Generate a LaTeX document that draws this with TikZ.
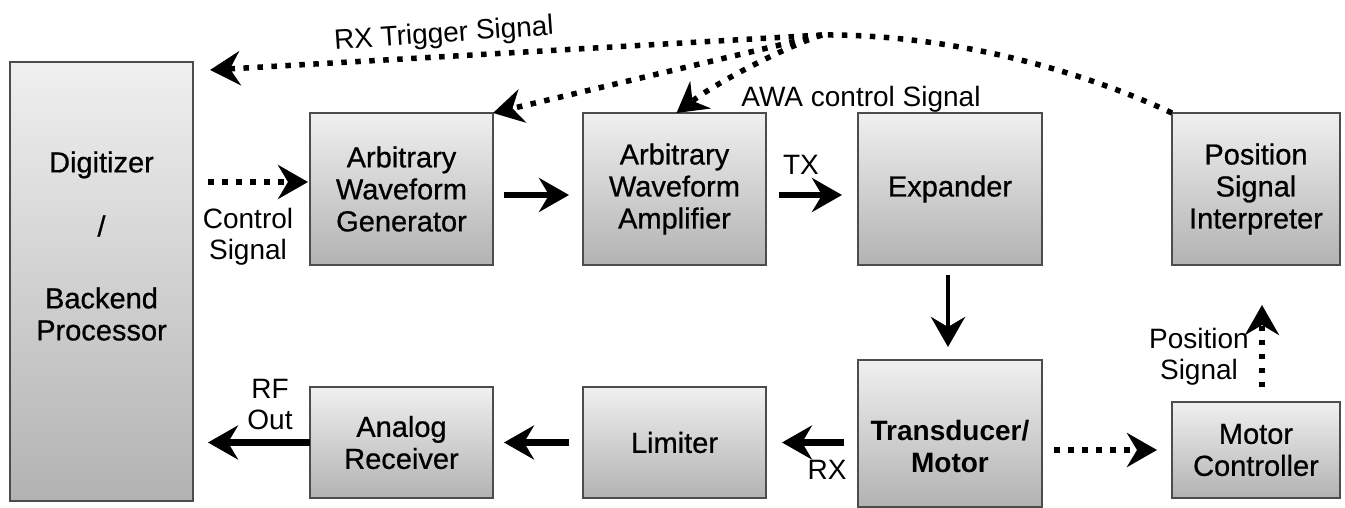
\documentclass[tikz,border=0pt]{standalone}
\usepackage{fontspec}
\setmainfont{Liberation Sans}
\newfontfamily\boxfont[FakeBold=0.7]{Liberation Sans}
\usetikzlibrary{arrows.meta,calc}
\begin{document}
\begin{tikzpicture}[x=1pt,y=-1pt,
  box/.style n args={2}{draw=black!70, line width=1.5pt, top color=black!6, bottom color=black!30,
    minimum width=#1, minimum height=#2, inner sep=0pt, outer sep=0pt,
    font=\boxfont\fontsize{29}{32}\selectfont, align=center},
  boxtext/.style={font=\boxfont\fontsize{29}{32}\selectfont, align=center, inner sep=0pt},
  lbl/.style={font=\fontsize{28}{31}\selectfont, align=center, inner sep=0pt},
  tipstyle/.style={-{Stealth[length=30pt, width=34pt, inset=10pt]}},
  solidarrow/.style={line width=6.5pt, tipstyle},
  dotarrow/.style={line width=5.5pt, dash pattern=on 5.5pt off 8.5pt, tipstyle},
  dotline/.style={line width=5.5pt, dash pattern=on 5.5pt off 8.5pt}
]
\useasboundingbox (0,0) rectangle (1345,508);

% boxes
\node[box={183pt}{439pt}] (dig) at (101.5,281.5) {};
\node[boxtext] (digt) at (101.5,246) {Digitizer\\[32pt]/\\[40pt]Backend\\Processor};
\node[box={183pt}{152pt}] (awg) at (401.5,189) {Arbitrary\\Waveform\\Generator};
\node[box={183pt}{152pt}] (awa) at (674.5,189) {Arbitrary\\Waveform\\Amplifier};
\node[box={184pt}{152pt}] (exp) at (950,189) {Expander};
\node[box={168pt}{152pt}] (psi) at (1256,189) {Position\\Signal\\Interpreter};
\node[box={183pt}{111pt}] (ar) at (401.5,442.5) {Analog\\Receiver};
\node[box={183pt}{111pt}] (lim) at (674.5,442.5) {Limiter};
\node[box={184pt}{147pt}] (tm) at (950,433.5) {};
\node[boxtext, font=\bfseries\fontsize{28}{32}\selectfont] (tmt) at (950,446) {Transducer/\\Motor};
\node[box={168pt}{96pt}] (mc) at (1256,450) {Motor\\Controller};

% top dotted connectors
\coordinate (hub) at (822,35);
\draw[dotline] (psi.north west) .. controls (1080,70) and (950,34) .. (hub);
\draw[dotarrow] (hub) -- ([xshift=17pt,yshift=-8pt]dig.north east);
\draw[dotarrow] (hub) -- (awg.north east);
\draw[dotarrow] (hub) .. controls (790,45) and (720,80) .. ([xshift=2pt]awa.north);

% horizontal / vertical arrows
\draw[dotarrow, shorten <=15pt, shorten >=2pt] ([yshift=7pt]dig.east |- awg.west) -- ([yshift=7pt]awg.west);
\draw[solidarrow, shorten <=11pt, shorten >=14pt] ([yshift=-6pt]awg.east) -- ([yshift=-6pt]awa.west);
\draw[solidarrow, shorten <=13pt, shorten >=16pt] ([yshift=-6pt]awa.east) -- ([yshift=-6pt]exp.west);
\draw[solidarrow, line width=4.5pt, shorten <=10pt, shorten >=13pt] ([xshift=-2pt]exp.south) -- ([xshift=-2pt]tm.north);
\draw[solidarrow, shorten <=14pt, shorten >=16pt] (tm.west |- lim.east) -- (lim.east);
\draw[solidarrow, shorten <=14pt, shorten >=11pt] (lim.west) -- (ar.east);
\draw[solidarrow, shorten >=15pt] (ar.west) -- (dig.east |- ar.west);
\draw[dotarrow, shorten <=12pt, shorten >=15pt] (tm.east |- mc.west) -- (mc.west);
\draw[dotarrow, shorten <=15pt, shorten >=40pt] ([xshift=6pt]mc.north) -- ([xshift=6pt]psi.south);

% labels
\node[lbl, rotate=4] (rxt) at (444,35) {RX Trigger Signal};
\node[lbl] (awac) at (861,99) {AWA control Signal};
\node[lbl] (ctl) at (248,237) {Control\\Signal};
\node[lbl] (tx) at (801,165) {TX};
\node[lbl] (rf) at (270,405) {RF\\Out};
\node[lbl] (rx) at (827,470) {RX};
\node[lbl] (pos) at (1199,357) {Position\\Signal};
\end{tikzpicture}
\end{document}
